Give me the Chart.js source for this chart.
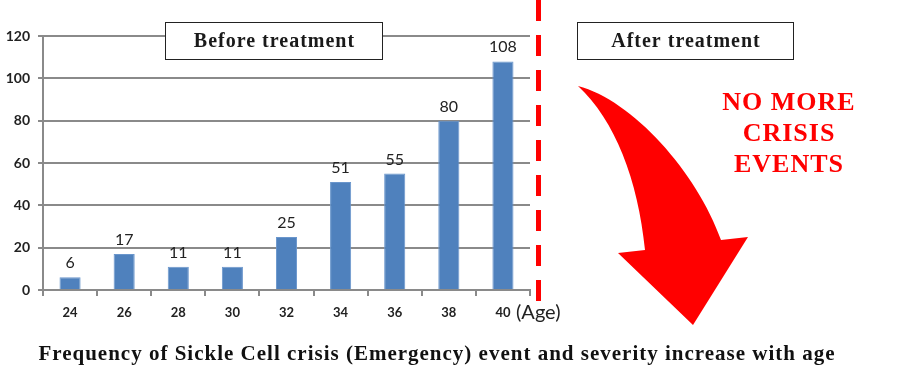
<!DOCTYPE html>
<html>
<head>
<meta charset="utf-8">
<script src="https://cdn.jsdelivr.net/npm/chart.js@4"></script>
<style>
  html, body { margin: 0; padding: 0; background: #fff; }
  #wrap { width: 900px; height: 377px; position: relative; }
</style>
</head>
<body>
<div id="wrap"><canvas id="chart" width="900" height="377"></canvas></div>
<script>
// data
const ages = ['24', '26', '28', '30', '32', '34', '36', '38', '40'];
const crisisEvents = [6, 17, 11, 11, 25, 51, 55, 80, 108];
const yTicks = [0, 20, 40, 60, 80, 100, 120];

const beforeLabel = 'Before treatment';
const afterLabel = 'After treatment';
const noMoreLines = ['NO MORE', 'CRISIS', 'EVENTS'];
const caption = 'Frequency of Sickle Cell crisis (Emergency) event and severity increase with age';

const gridGray = '#8a8a8a';
const serif = '"Liberation Serif", "Times New Roman", serif';

// labels on bars, boxes, arrow, caption
const extras = {
  id: 'extras',
  afterDatasetsDraw: function(chart) {
    const ctx = chart.ctx;
    const meta = chart.getDatasetMeta(0);
    ctx.save();
    ctx.fillStyle = '#222';
    ctx.font = '16px Lato, sans-serif';
    ctx.textAlign = 'center';
    ctx.textBaseline = 'alphabetic';
    meta.data.forEach(function(bar, i) {
      ctx.fillText(String(crisisEvents[i]), bar.x, bar.y - 9);
    });
    ctx.restore();
  },
  afterDraw: function(chart) {
    const ctx = chart.ctx;
    const area = chart.chartArea;
    ctx.save();

    // (Age) axis note
    ctx.fillStyle = '#222';
    ctx.font = '20px Lato, sans-serif';
    ctx.textAlign = 'left';
    ctx.textBaseline = 'middle';
    ctx.fillText('(Age)', area.right - 14, 313);

    // treatment boxes
    function box(x, y, w, h, text) {
      ctx.fillStyle = '#fff';
      ctx.fillRect(x, y, w, h);
      ctx.strokeStyle = '#222';
      ctx.lineWidth = 1;
      ctx.strokeRect(x + 0.5, y + 0.5, w, h);
      ctx.fillStyle = '#1a1a1a';
      ctx.font = 'bold 20px ' + serif;
      ctx.letterSpacing = '1px';
      ctx.textAlign = 'center';
      ctx.textBaseline = 'middle';
      ctx.fillText(text, x + w / 2 + 1, y + h / 2 + 1);
      ctx.letterSpacing = '0px';
    }
    box(165, 22, 217, 37, beforeLabel);
    box(577, 22, 216, 37, afterLabel);

    // red dashed divider
    ctx.strokeStyle = '#ff0000';
    ctx.lineWidth = 5;
    ctx.setLineDash([21, 14]);
    ctx.beginPath();
    ctx.moveTo(538.5, 0);
    ctx.lineTo(538.5, 302);
    ctx.stroke();
    ctx.setLineDash([]);

    // curved arrow
    ctx.fillStyle = '#ff0000';
    ctx.beginPath();
    ctx.moveTo(578, 86);
    ctx.bezierCurveTo(632, 100, 697, 172, 721, 240);
    ctx.lineTo(748, 237);
    ctx.lineTo(693, 325);
    ctx.lineTo(618, 253);
    ctx.lineTo(645, 250);
    ctx.bezierCurveTo(638, 180, 615, 120, 578, 86);
    ctx.closePath();
    ctx.fill();

    // red message
    ctx.font = 'bold 26px ' + serif;
    ctx.letterSpacing = '1px';
    ctx.textAlign = 'center';
    ctx.textBaseline = 'middle';
    noMoreLines.forEach(function(line, i) {
      ctx.fillText(line, 789, 103 + i * 31);
    });

    // caption
    ctx.fillStyle = '#111';
    ctx.font = 'bold 21px ' + serif;
    ctx.letterSpacing = '1px';
    ctx.fillText(caption, 437, 355);
    ctx.restore();
  }
};

new Chart(document.getElementById('chart'), {
  type: 'bar',
  data: {
    labels: ages,
    datasets: [{
      data: crisisEvents,
      backgroundColor: '#4f81bd',
      borderColor: '#6a96cc',
      borderWidth: 1,
      barPercentage: 0.39,
      categoryPercentage: 1
    }]
  },
  options: {
    responsive: false,
    animation: false,
    layout: { padding: { left: 0, top: 36, right: 370, bottom: 57 } },
    plugins: { legend: { display: false }, tooltip: { enabled: false } },
    scales: {
      x: {
        afterFit: function(scale) { scale.height = 30; },
        grid: { drawOnChartArea: false, drawTicks: true, tickLength: 6, offset: true, color: gridGray, lineWidth: 2 },
        border: { color: gridGray, width: 2 },
        ticks: { color: '#222', padding: 9, font: { family: 'Lato', size: 13, weight: 'bold' } }
      },
      y: {
        min: 0,
        max: 120,
        afterFit: function(scale) { scale.width = 43; },
        afterBuildTicks: function(scale) { scale.ticks = yTicks.map(function(v) { return { value: v }; }); },
        grid: { color: gridGray, lineWidth: 2, tickLength: 5 },
        border: { color: gridGray, width: 2 },
        ticks: { color: '#222', padding: 8, font: { family: 'Lato', size: 14, weight: 'bold' } }
      }
    }
  },
  plugins: [extras]
});
</script>
</body>
</html>
